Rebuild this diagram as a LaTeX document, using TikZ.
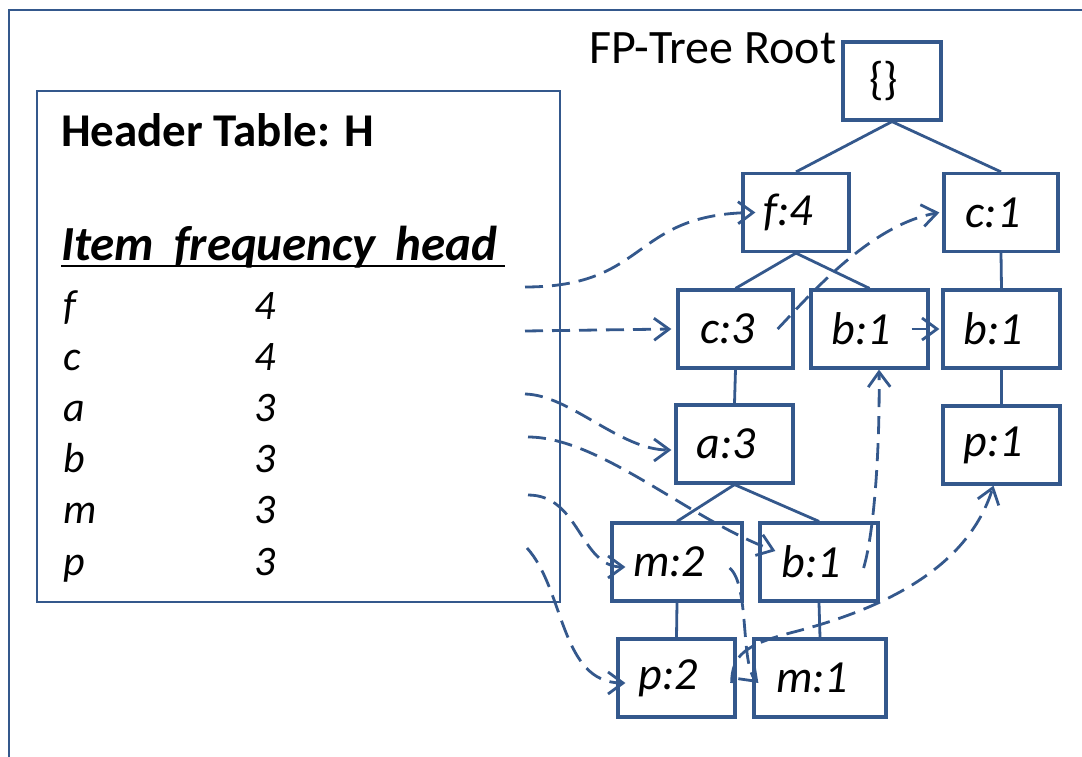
\documentclass[tikz,border=0pt]{standalone}
\usepackage{fontspec}
\setmainfont{Carlito}
\usetikzlibrary{arrows.meta}
\definecolor{fpblue}{RGB}{52,88,140}
\tikzset{
  fpnode/.style={draw=fpblue, line width=3.2pt, minimum height=78pt, minimum width=117pt,
    inner sep=0pt, font=\fontsize{46}{54}\selectfont\itshape,
    execute at end node={\hspace*{16pt}}},
  fpedge/.style={draw=fpblue, line width=2.8pt},
  fplink/.style={draw=fpblue, line width=2.8pt, dash pattern=on 18pt off 9pt,
    -{Straight Barb[length=15pt,width=22pt]}},
  rowtxt/.style={anchor=base west, inner sep=0pt, font=\fontsize{42}{50}\selectfont\itshape},
}

\begin{document}
\begin{tikzpicture}[x=1pt, y=-1pt]
\useasboundingbox (0,0) rectangle (1082,757);
% 外框
\draw[fpblue, line width=2.8pt] (9,757) -- (9,10) -- (1082,10);

% 头表 H
\draw[fpblue, line width=2.8pt] (37,91) rectangle (560,602);
\node[anchor=base west, inner sep=0pt, font=\fontsize{47}{56}\selectfont\bfseries] (title) at (61,147) {Header Table: H};
\node[anchor=base west, inner sep=0pt, font=\fontsize{49}{56}\selectfont\bfseries\itshape] (cols) at (61,260) {Item\hspace{20pt}frequency\hspace{20pt}head};
\draw[line width=2.6pt] ([yshift=-6pt]cols.base west) -- ++(444,0);
\foreach \itm/\frq [count=\i from 0] in {f/4,c/4,a/3,b/3,m/3,p/3}{
  \node[rowtxt] (item-\itm) at (63,319+51.2*\i) {\itm};
  \node[rowtxt] (freq-\itm) at (254,319+51.2*\i) {\frq};
}
\coordinate (head-f) at (525,287);
\coordinate (head-c) at (525,331);
\coordinate (head-a) at (525,394);
\coordinate (head-b) at (528,437);
\coordinate (head-m) at (528,495);
\coordinate (head-p) at (527,548);

% FP 树
\node[anchor=base west, inner sep=0pt, font=\fontsize{48}{56}\selectfont] (treelbl) at (589,64) {FP-Tree Root};
\node[fpnode, minimum width=98pt, font=\fontsize{46}{54}\selectfont] (root) at (892,81) {\{\}};
\node[fpnode, minimum width=106pt] (f4) at (796,212.5) {f:4};
\node[fpnode, minimum width=114pt] (c1) at (1001,212.5) {c:1};
\node[fpnode, minimum width=115pt] (c3) at (735.5,329) {c:3};
\node[fpnode] (b1a) at (869.5,329) {b:1};
\node[fpnode] (b1b) at (1001.5,329) {b:1};
\node[fpnode] (a3) at (734.5,444) {a:3};
\node[fpnode] (p1) at (1001.5,445) {p:1};
\node[fpnode, minimum width=130pt] (m2) at (677,562) {m:2};
\node[fpnode, minimum width=118pt] (b1c) at (819,562) {b:1};
\node[fpnode] (p2) at (676.5,678) {p:2};
\node[fpnode, minimum width=132pt] (m1) at (820,678) {m:1};
\foreach \a/\b in {root/f4, root/c1, f4/c3, f4/b1a, c1/b1b, c3/a3, b1b/p1, a3/m2, a3/b1c, m2/p2, b1c/m1}
  \draw[fpedge] (\a.south) -- (\b.north);

% 结点链
\draw[fplink] (head-f) .. controls (650,287) and (630,214) .. ([xshift=14pt]f4.west);
\draw[fplink] (head-c) -- ([xshift=-5pt]c3.west);
\draw[fplink] ([xshift=-17pt]c3.east) .. controls (810,295) and (870,225) .. ([xshift=-3pt]c1.west);
\draw[fplink] ([xshift=-18pt]b1a.east) -- ([xshift=-2pt]b1b.west);
\draw[fplink] (head-a) .. controls (570,395) and (620,450) .. ([xshift=-3pt,yshift=-6pt]a3.west);
\draw[fplink] (head-b) .. controls (600,437) and (690,520) .. ([xshift=17pt,yshift=11pt]b1c.west);
\draw[fplink] ([xshift=-16pt,yshift=-6pt]b1c.east) .. controls (875,530) and (880,440) .. ([xshift=9.5pt]b1a.south);
\draw[fplink] (head-m) .. controls (580,495) and (580,567) .. ([xshift=15pt,yshift=-5pt]m2.west);
\draw[fplink] ([xshift=-14pt,yshift=-6pt]m2.east) .. controls (750,585) and (740,665) .. ([xshift=6pt,yshift=-5pt]m1.west);
\draw[fplink] (head-p) .. controls (565,590) and (560,683) .. ([xshift=9pt,yshift=-5pt]p2.west);
\draw[fplink] ([xshift=-5pt,yshift=-5pt]p2.east) .. controls (732,655) and (745,645) .. (790,633)
  .. controls (900,605) and (970,560) .. ([xshift=-8pt]p1.south);
\end{tikzpicture}
\end{document}
